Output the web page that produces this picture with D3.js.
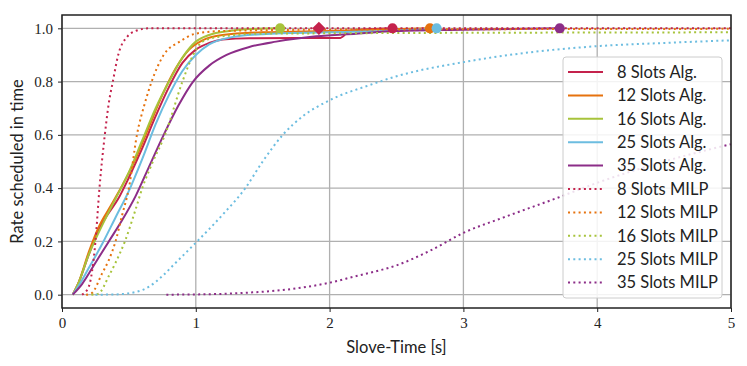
<!DOCTYPE html>
<html>
<head>
<meta charset="utf-8">
<script src="https://cdn.jsdelivr.net/npm/d3@7"></script>
<style>
  body { margin: 0; background: #fff; }
  svg { display: block; }
</style>
</head>
<body>
<svg width="747" height="366"></svg>
<script>
const seriesNames = [
  "8 Slots Alg.", "12 Slots Alg.", "16 Slots Alg.", "25 Slots Alg.", "35 Slots Alg.",
  "8 Slots MILP", "12 Slots MILP", "16 Slots MILP", "25 Slots MILP", "35 Slots MILP"
];

// [time, rate] pairs
const alg8 = [[0.08,0],[0.12,0.04],[0.2,0.15],[0.28,0.25],[0.34,0.3],[0.42,0.36],[0.5,0.44],[0.6,0.55],[0.7,0.67],[0.8,0.78],[0.9,0.87],[1.0,0.92],[1.1,0.945],[1.2,0.958],[1.4,0.963],[2.08,0.964],[2.15,0.99],[2.47,1.0]];
const alg12 = [[0.08,0],[0.12,0.04],[0.2,0.16],[0.28,0.26],[0.36,0.33],[0.45,0.41],[0.55,0.51],[0.65,0.63],[0.75,0.75],[0.85,0.85],[0.95,0.92],[1.05,0.955],[1.2,0.975],[1.5,0.985],[2.0,0.99],[2.75,1.0]];
const alg16 = [[0.08,0],[0.12,0.04],[0.2,0.15],[0.3,0.26],[0.4,0.36],[0.5,0.46],[0.6,0.58],[0.7,0.7],[0.8,0.8],[0.9,0.89],[1.0,0.95],[1.1,0.975],[1.25,0.99],[1.4,0.997],[1.63,1.0]];
const alg25 = [[0.08,0],[0.12,0.03],[0.2,0.1],[0.3,0.19],[0.4,0.29],[0.5,0.39],[0.6,0.51],[0.7,0.64],[0.8,0.75],[0.9,0.84],[1.0,0.9],[1.1,0.94],[1.25,0.965],[1.5,0.978],[2.0,0.985],[2.5,0.992],[2.8,1.0]];
const alg35 = [[0.08,0],[0.15,0.04],[0.25,0.12],[0.35,0.2],[0.45,0.28],[0.55,0.37],[0.65,0.48],[0.76,0.6],[0.87,0.71],[0.98,0.8],[1.1,0.86],[1.23,0.9],[1.4,0.93],[1.6,0.95],[1.9,0.97],[2.2,0.98],[2.5,0.99],[3.0,0.995],[3.72,1.0]];
const milp8 = [[0.15,0],[0.2,0.03],[0.25,0.2],[0.28,0.4],[0.32,0.6],[0.35,0.72],[0.38,0.8],[0.42,0.9],[0.49,0.97],[0.55,0.99],[0.65,1.0],[5,1.0]];
const milp12 = [[0.18,0],[0.22,0.005],[0.3,0.08],[0.35,0.13],[0.4,0.2],[0.45,0.3],[0.5,0.4],[0.56,0.6],[0.62,0.72],[0.67,0.8],[0.76,0.9],[0.88,0.95],[1.0,0.98],[1.2,0.99],[2.0,0.995],[5,0.998]];
const milp16 = [[0.22,0],[0.27,0.003],[0.35,0.07],[0.4,0.12],[0.47,0.2],[0.55,0.32],[0.6,0.4],[0.68,0.5],[0.77,0.6],[0.9,0.8],[0.98,0.9],[1.05,0.95],[1.2,0.97],[1.5,0.98],[5,0.985]];
const milp25 = [[0.25,0],[0.4,0.001],[0.55,0.01],[0.65,0.03],[0.75,0.07],[0.85,0.12],[1.0,0.195],[1.2,0.3],[1.37,0.4],[1.5,0.5],[1.65,0.6],[1.8,0.67],[2.0,0.73],[2.3,0.787],[2.5,0.82],[3.0,0.873],[3.5,0.91],[4.0,0.933],[4.5,0.945],[5,0.955]];
const milp35 = [[0.78,0],[1.0,0.001],[1.2,0.003],[1.4,0.008],[1.6,0.015],[1.8,0.027],[2.0,0.045],[2.2,0.07],[2.3,0.082],[2.5,0.11],[2.75,0.165],[3.0,0.232],[3.3,0.29],[3.7,0.363],[4.0,0.42],[4.5,0.5],[5,0.565]];

// end markers: [series index, time, rate, symbol]
const markers = [[2,1.63,1.0,"circle"],[0,1.92,1.0,"diamond"],[0,2.47,1.0,"circle"],[1,2.75,1.0,"circle"],[3,2.8,1.0,"circle"],[4,3.72,1.0,"circle"]];

const xTicks = [0, 1, 2, 3, 4, 5];
const yTicks = [0, 0.2, 0.4, 0.6, 0.8, 1.0];
const colors = ["#c4224c", "#e6720e", "#a7c33b", "#6cbde0", "#8c2d88"];

const allSeries = [alg8, alg12, alg16, alg25, alg35, milp8, milp12, milp16, milp25, milp35];

const margin = { left: 62, right: 16, top: 15, bottom: 58 };
const width = 747, height = 366;
const svg = d3.select("svg");
const sansFont = "Lato, 'DejaVu Sans', sans-serif";
const serifFont = "'Liberation Serif', 'DejaVu Serif', serif";

const x = d3.scaleLinear().domain([0, 5]).range([margin.left, width - margin.right]);
const y = d3.scaleLinear().domain([-0.05, 1.05]).range([height - margin.bottom, margin.top]);

svg.append("defs").append("clipPath").attr("id", "clip")
  .append("rect")
  .attr("x", x(0)).attr("y", y(1.05))
  .attr("width", x(5) - x(0)).attr("height", y(-0.05) - y(1.05));

// grid
svg.append("g").selectAll("line").data(xTicks).join("line")
  .attr("x1", d => x(d)).attr("x2", d => x(d))
  .attr("y1", y(1.05)).attr("y2", y(-0.05))
  .attr("stroke", "#b0b0b0").attr("stroke-width", 1.3);
svg.append("g").selectAll("line").data(yTicks).join("line")
  .attr("y1", d => y(d)).attr("y2", d => y(d))
  .attr("x1", x(0)).attr("x2", x(5))
  .attr("stroke", "#b0b0b0").attr("stroke-width", 1.3);

const line = d3.line()
  .x(d => x(d[0])).y(d => y(d[1]))
  .curve(d3.curveMonotoneX);

const plot = svg.append("g").attr("clip-path", "url(#clip)");

plot.selectAll("path.series").data(allSeries).join("path")
  .attr("class", "series")
  .attr("d", line)
  .attr("fill", "none")
  .attr("stroke", (d, i) => colors[i % 5])
  .attr("stroke-width", 2)
  .attr("stroke-dasharray", (d, i) => i < 5 ? null : "2,3.3");

plot.selectAll("path.marker").data(markers).join("path")
  .attr("class", "marker")
  .attr("transform", d => `translate(${x(d[1])},${y(d[2])})`)
  .attr("d", d => d[3] === "diamond"
    ? d3.symbol(d3.symbolDiamond2, 110)()
    : d3.symbol(d3.symbolCircle, 80)())
  .attr("fill", d => colors[d[0]]);

// axes
const xAxis = svg.append("g")
  .attr("transform", `translate(0,${y(-0.05)})`)
  .call(d3.axisBottom(x).tickValues(xTicks).tickFormat(d3.format("d")).tickSize(4).tickPadding(5));
const yAxis = svg.append("g")
  .attr("transform", `translate(${x(0)},0)`)
  .call(d3.axisLeft(y).tickValues(yTicks).tickFormat(d3.format(".1f")).tickSize(4).tickPadding(5));
[xAxis, yAxis].forEach(a => {
  a.attr("font-family", serifFont).attr("font-size", 15);
  a.select(".domain").remove();
  a.selectAll(".tick line").attr("stroke", "#222").attr("stroke-width", 1);
  a.selectAll(".tick text")
    .style("font-family", serifFont).style("font-size", "15px").style("fill", "#222");
});

svg.append("rect")
  .attr("x", x(0)).attr("y", y(1.05))
  .attr("width", x(5) - x(0)).attr("height", y(-0.05) - y(1.05))
  .attr("fill", "none").attr("stroke", "#222").attr("stroke-width", 1.5);

svg.append("text")
  .attr("x", (x(0) + x(5)) / 2).attr("y", 353)
  .attr("text-anchor", "middle")
  .style("font-family", sansFont).style("font-size", "16.5px").style("fill", "#222")
  .text("Slove-Time [s]");

svg.append("text")
  .attr("transform", `translate(23,${(y(1.05) + y(-0.05)) / 2}) rotate(-90)`)
  .attr("text-anchor", "middle")
  .style("font-family", sansFont).style("font-size", "16.5px").style("fill", "#222")
  .text("Rate scheduled in time");

// legend
const legend = svg.append("g").attr("transform", "translate(563,57)");
legend.append("rect")
  .attr("width", 159).attr("height", 241).attr("rx", 3)
  .attr("fill", "#fff").attr("fill-opacity", 0.85)
  .attr("stroke", "#cccccc").attr("stroke-width", 1);
const rows = legend.selectAll("g.row").data(seriesNames).join("g")
  .attr("class", "row")
  .attr("transform", (d, i) => `translate(0,${15 + i * 23.4})`);
rows.append("line")
  .attr("x1", 5).attr("x2", 40)
  .attr("stroke", (d, i) => colors[i % 5])
  .attr("stroke-width", 2)
  .attr("stroke-dasharray", (d, i) => i < 5 ? null : "2,3.3");
rows.append("text")
  .attr("x", 54).attr("dy", "0.35em")
  .style("font-family", sansFont).style("font-size", "16.5px").style("fill", "#222")
  .text(d => d);
</script>
</body>
</html>
